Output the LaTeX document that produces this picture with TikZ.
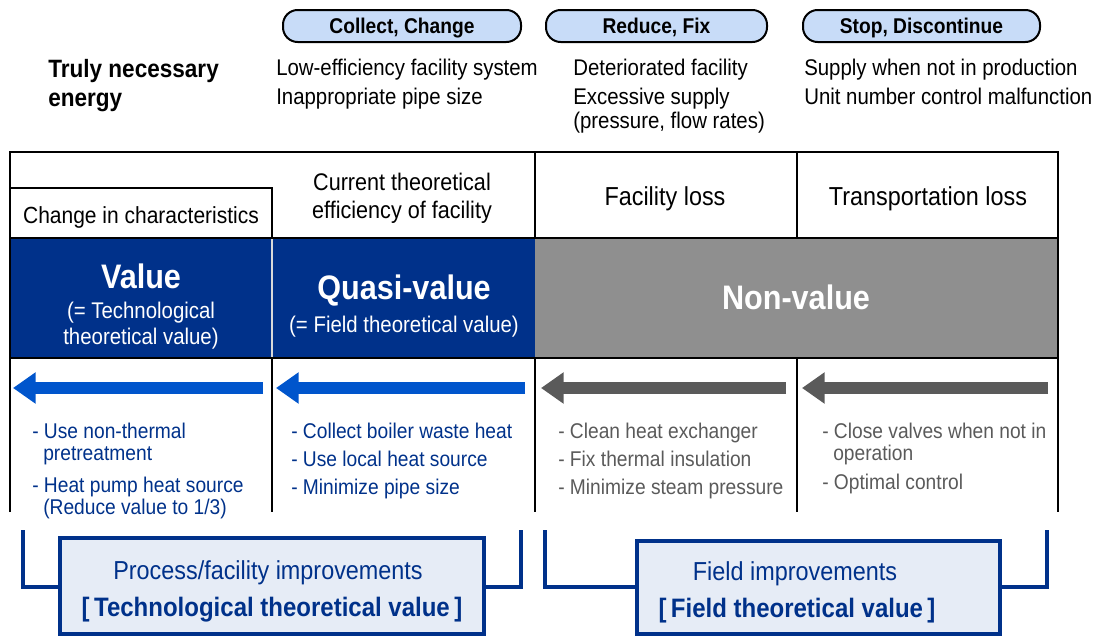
\documentclass[tikz,border=0pt]{standalone}
\usepackage{fontspec}
\setmainfont[FakeStretch=0.9]{Liberation Sans}
\usetikzlibrary{arrows.meta}
\definecolor{navy}{HTML}{00318A}
\definecolor{pillfill}{HTML}{C8DCF8}
\definecolor{arrblue}{HTML}{0055CC}
\definecolor{nvgray}{HTML}{8F8F8F}
\definecolor{dgray}{HTML}{5A5A5A}
\definecolor{boxfill}{HTML}{E6ECF6}
\begin{document}
\begin{tikzpicture}[x=0.75pt,y=-0.75pt,
  pillbox/.style={draw=black, line width=1.5pt, fill=pillfill, rounded corners=11pt, minimum height=24pt, inner sep=0pt, text depth=0pt, font=\bfseries\fontsize{16}{18}\selectfont},
  txt/.style={anchor=base west, inner sep=0pt, font=\fontsize{17}{20}\selectfont},
  ctxt/.style={anchor=base, inner sep=0pt, font=\fontsize{17}{20}\selectfont},
  bul/.style={anchor=base west, inner sep=0pt, font=\fontsize{16}{18}\selectfont},
  bigf/.style={font=\bfseries\fontsize{25.5}{28}\selectfont},
  grid/.style={line width=1.1pt, black},
  bigarrow/.style={line width=9pt, -{Triangle[length=17pt,width=22.5pt]}},
  bracket/.style={navy, line width=2.4pt},
  impbox/.style={draw=navy, line width=2.4pt, fill=boxfill}]
\useasboundingbox (0,0) rectangle (1103,639);

% pills
\node[pillbox, minimum width=178.5pt] (p1) at (402,26) {Collect, Change};
\node[pillbox, minimum width=165.75pt] (p2) at (656.5,26) {Reduce, Fix};
\node[pillbox, minimum width=177.75pt] (p3) at (921.5,26) {Stop, Discontinue};

% top texts
\node[txt, font=\bfseries\fontsize{18.8}{22}\selectfont] (t0a) at (48,77) {Truly necessary};
\node[txt, font=\bfseries\fontsize{18.8}{22}\selectfont] (t0b) at (48,106) {energy};
\node[txt] (t1a) at (276,75) {Low-efficiency facility system};
\node[txt] (t1b) at (276,104) {Inappropriate pipe size};
\node[txt] (t2a) at (573,75) {Deteriorated facility};
\node[txt] (t2b) at (573,104) {Excessive supply};
\node[txt] (t2c) at (573,128) {(pressure, flow rates)};
\node[txt] (t3a) at (804,75) {Supply when not in production};
\node[txt] (t3b) at (804,104) {Unit number control malfunction};

% colored row
\fill[navy] (10,238) rectangle (535,358);
\fill[nvgray] (535,238) rectangle (1058,358);
\draw[white!85!black, line width=1pt] (272,238) -- (272,358);

% grid
\draw[grid] (10,512) -- (10,152) -- (1058,152) -- (1058,512);
\draw[grid] (10,188) -- (272,188) -- (272,238);
\draw[grid] (535,152) -- (535,238);
\draw[grid] (797,152) -- (797,238);
\draw[grid] (10,238) -- (1058,238);
\draw[grid] (10,358) -- (1058,358);
\draw[grid] (272,358) -- (272,512);
\draw[grid] (535,358) -- (535,512);
\draw[grid] (797,358) -- (797,512);

% header texts
\node[ctxt, font=\fontsize{17.5}{20}\selectfont] (h1) at (141,223) {Change in characteristics};
\node[ctxt, font=\fontsize{18}{20}\selectfont] (h2a) at (402,190) {Current theoretical};
\node[ctxt, font=\fontsize{18}{20}\selectfont] (h2b) at (402,218) {efficiency of facility};
\node[ctxt, font=\fontsize{19.5}{22}\selectfont] (h3) at (665,205) {Facility loss};
\node[ctxt, font=\fontsize{19.5}{22}\selectfont] (h4) at (928,205) {Transportation loss};

% value texts
\node[ctxt, white, bigf] (v1) at (141,288) {Value};
\node[ctxt, white] (v1a) at (141,318) {(= Technological};
\node[ctxt, white] (v1b) at (141,344) {theoretical value)};
\node[ctxt, white, bigf] (v2) at (404,299) {Quasi-value};
\node[ctxt, white] (v2a) at (404,332) {(= Field theoretical value)};
\node[ctxt, white, bigf] (v3) at (796,309) {Non-value};

% arrows
\draw[bigarrow, arrblue] (263,388) -- (13,388);
\draw[bigarrow, arrblue] (525,388) -- (276,388);
\draw[bigarrow, dgray] (786,388) -- (541,388);
\draw[bigarrow, dgray] (1048,388) -- (802,388);

% bullets
\begin{scope}[navy]
\node[bul] (b1a) at (32,438) {- Use non-thermal};
\node[bul] (b1b) at (43,460) {pretreatment};
\node[bul] (b1c) at (32,492) {- Heat pump heat source};
\node[bul] (b1d) at (43,514) {(Reduce value to 1/3)};
\node[bul] (b2a) at (291,438) {- Collect boiler waste heat};
\node[bul] (b2b) at (291,466) {- Use local heat source};
\node[bul] (b2c) at (291,494) {- Minimize pipe size};
\end{scope}
\begin{scope}[dgray]
\node[bul] (b3a) at (558,438) {- Clean heat exchanger};
\node[bul] (b3b) at (558,466) {- Fix thermal insulation};
\node[bul] (b3c) at (558,494) {- Minimize steam pressure};
\node[bul] (b4a) at (822,438) {- Close valves when not in};
\node[bul] (b4b) at (833,460) {operation};
\node[bul] (b4c) at (822,489) {- Optimal control};
\end{scope}

% bottom brackets
\draw[bracket] (23,530) -- (23,587) -- (60,587);
\draw[bracket] (484,587) -- (521,587) -- (521,530);
\draw[bracket] (545,530) -- (545,587) -- (637,587);
\draw[bracket] (1000,587) -- (1047,587) -- (1047,530);
\draw[impbox] (60,538) rectangle (484,634);
\draw[impbox] (637,541) rectangle (1000,634);
\node[ctxt, navy, font=\fontsize{19.5}{22}\selectfont] (i1a) at (268,579) {Process/facility improvements};
\node[ctxt, navy, font=\bfseries\fontsize{20}{24}\selectfont] (i1b) at (272,616) {[\,Technological theoretical value\,]};
\node[ctxt, navy, font=\fontsize{19.5}{22}\selectfont] (i2a) at (795,580) {Field improvements};
\node[ctxt, navy, font=\bfseries\fontsize{20}{24}\selectfont] (i2b) at (797,617) {[\,Field theoretical value\,]};
\end{tikzpicture}
\end{document}
